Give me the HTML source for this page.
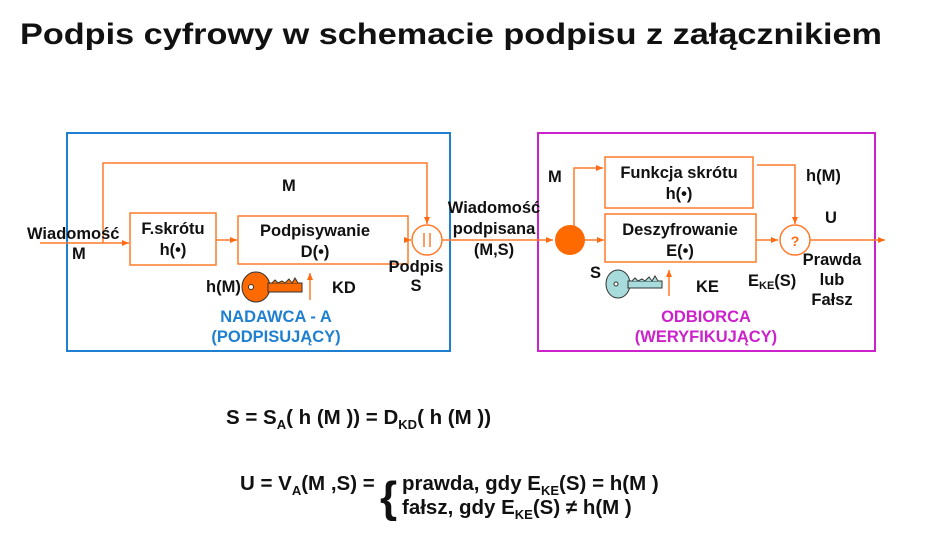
<!DOCTYPE html>
<html><head><meta charset="utf-8"><style>
html,body{margin:0;padding:0;background:#fff;width:933px;height:533px;overflow:hidden}
svg{display:block}
text{font-family:"Liberation Sans",sans-serif;font-weight:bold;fill:#111}
</style></head><body>
<svg width="933" height="533" viewBox="0 0 933 533" xmlns="http://www.w3.org/2000/svg">
<defs>
<marker id="a" markerWidth="8" markerHeight="8" refX="7" refY="4" orient="auto" markerUnits="userSpaceOnUse">
<path d="M0,1 L7,4 L0,7 z" fill="#ff6a13"/></marker>
</defs>
<text x="20" y="44" font-size="30" textLength="862" lengthAdjust="spacingAndGlyphs">Podpis cyfrowy w schemacie podpisu z załącznikiem</text>

<rect x="67" y="133" width="383" height="218" fill="none" stroke="#1f7fd0" stroke-width="2"/>
<rect x="538" y="133" width="337" height="218" fill="none" stroke="#cc22cc" stroke-width="2"/>

<g stroke="#ff7a2a" stroke-width="1.5" fill="none">
<line x1="40" y1="243" x2="129" y2="243" marker-end="url(#a)"/>
<polyline points="103,243 103,163 427,163 427,224" marker-end="url(#a)"/>
<rect x="130" y="213" width="86" height="52"/>
<line x1="216" y1="240" x2="237" y2="240" marker-end="url(#a)"/>
<rect x="238" y="216" width="170" height="48"/>
<line x1="408" y1="240" x2="411" y2="240" marker-end="url(#a)"/>
<circle cx="427" cy="240" r="15"/>
<line x1="442" y1="240" x2="553" y2="240" marker-end="url(#a)"/>
<line x1="585" y1="240" x2="604" y2="240" marker-end="url(#a)"/>
<polyline points="574,230 574,168 603,168" marker-end="url(#a)"/>
<rect x="605" y="157" width="148" height="51"/>
<rect x="605" y="214" width="151" height="48"/>
<line x1="756" y1="240" x2="778" y2="240" marker-end="url(#a)"/>
<polyline points="757,165 795,165 795,224" marker-end="url(#a)"/>
<circle cx="795" cy="240" r="15"/>
<line x1="810" y1="240" x2="885" y2="240" marker-end="url(#a)"/>
<line x1="310" y1="300" x2="310" y2="273" marker-end="url(#a)"/>
<line x1="669" y1="296" x2="669" y2="270" marker-end="url(#a)"/>
</g>
<line x1="424" y1="233" x2="424" y2="247" stroke="#ff7a2a" stroke-width="1.5"/>
<line x1="430" y1="233" x2="430" y2="247" stroke="#ff7a2a" stroke-width="1.5"/>
<circle cx="570" cy="240" r="15" fill="#ff6a00"/>
<text x="795" y="246" font-size="14" text-anchor="middle" style="fill:#ff6a13">?</text>

<g stroke="#333" stroke-width="1">
<ellipse cx="256" cy="287" rx="14" ry="15" fill="#ff6a00"/>
<path d="M268,283 L302,283 L302,292 L268,292 z" fill="#ff6a00"/>
<path d="M272,283 l3,-3 3,3 4,-2 3,2 4,-4 3,4 3,-5 3,5" fill="#ff6a00"/>
<circle cx="251" cy="287" r="2.5" fill="#fff"/>
</g>
<g stroke="#333" stroke-width="1">
<ellipse cx="618" cy="284" rx="12" ry="14" fill="#a8dcdc"/>
<path d="M628,281 L662,281 L662,288 L628,288 z" fill="#a8dcdc"/>
<path d="M632,281 l3,-3 3,3 4,-2 3,2 4,-4 3,4 3,-5 3,5" fill="#a8dcdc"/>
<circle cx="616" cy="284" r="2" fill="#fff"/>
</g>

<g font-size="16.5">
<text x="282" y="191">M</text>
<text x="27" y="239">Wiadomość</text>
<text x="72" y="259">M</text>
<text x="173" y="234" text-anchor="middle">F.skrótu</text>
<text x="173" y="255" text-anchor="middle">h(•)</text>
<text x="315" y="236" text-anchor="middle">Podpisywanie</text>
<text x="315" y="257" text-anchor="middle">D(•)</text>
<text x="206" y="292">h(M)</text>
<text x="332" y="293">KD</text>
<text x="416" y="272" text-anchor="middle">Podpis</text>
<text x="416" y="291" text-anchor="middle">S</text>
<text x="494" y="213" text-anchor="middle">Wiadomość</text>
<text x="494" y="234" text-anchor="middle">podpisana</text>
<text x="494" y="255" text-anchor="middle">(M,S)</text>
<text x="548" y="182">M</text>
<text x="679" y="178" text-anchor="middle">Funkcja skrótu</text>
<text x="679" y="199" text-anchor="middle">h(•)</text>
<text x="680" y="235" text-anchor="middle">Deszyfrowanie</text>
<text x="680" y="256" text-anchor="middle">E(•)</text>
<text x="806" y="181">h(M)</text>
<text x="825" y="223">U</text>
<text x="590" y="278">S</text>
<text x="696" y="292">KE</text>
<text x="748" y="286">E<tspan font-size="11" dy="3">KE</tspan><tspan dy="-3">(S)</tspan></text>
<text x="832" y="265" text-anchor="middle">Prawda</text>
<text x="832" y="285" text-anchor="middle">lub</text>
<text x="832" y="305" text-anchor="middle">Fałsz</text>
<text x="276" y="322" text-anchor="middle" style="fill:#1f7fd0">NADAWCA  - A</text>
<text x="276" y="342" text-anchor="middle" style="fill:#1f7fd0">(PODPISUJĄCY)</text>
<text x="706" y="322" text-anchor="middle" style="fill:#cc22cc">ODBIORCA</text>
<text x="706" y="342" text-anchor="middle" style="fill:#cc22cc">(WERYFIKUJĄCY)</text>
</g>

<g font-size="20.5">
<text x="226" y="424">S = S<tspan font-size="13" dy="5">A</tspan><tspan dy="-5">( h (M )) = D</tspan><tspan font-size="13" dy="5">KD</tspan><tspan dy="-5">( h (M ))</tspan></text>
<text x="240" y="490">U = V<tspan font-size="13" dy="5">A</tspan><tspan dy="-5">(M ,S) =</tspan></text>
<text x="380" y="512" font-size="44">{</text>
<text x="402" y="490">prawda, gdy E<tspan font-size="13" dy="5">KE</tspan><tspan dy="-5">(S) = h(M )</tspan></text>
<text x="402" y="514">fałsz, gdy E<tspan font-size="13" dy="5">KE</tspan><tspan dy="-5">(S) ≠ h(M )</tspan></text>
</g>
</svg>
</body></html>
